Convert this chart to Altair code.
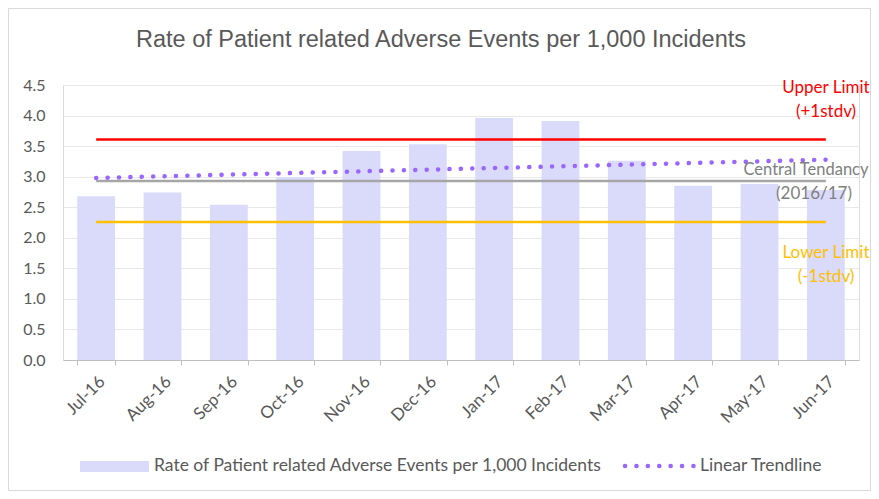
import json
import altair as alt
import pandas as pd

# ---- data ----
months = ["Jul-16", "Aug-16", "Sep-16", "Oct-16", "Nov-16", "Dec-16",
          "Jan-17", "Feb-17", "Mar-17", "Apr-17", "May-17", "Jun-17"]
rates = [2.68, 2.74, 2.54, 2.99, 3.42, 3.53, 3.96, 3.91, 3.26, 2.85, 2.88, 2.78]
upper_limit = 3.61
central_tendency = 2.93
lower_limit = 2.26
y_ticks = [0.0, 0.5, 1.0, 1.5, 2.0, 2.5, 3.0, 3.5, 4.0, 4.5]

title_text = "Rate of Patient related Adverse Events per 1,000 Incidents"
bar_legend = "Rate of Patient related Adverse Events per 1,000 Incidents"
trend_legend = "Linear Trendline"

BAR = "#DADAFB"
TREND = "#9966FF"
RED = "#FF0000"
GREY = "#A6A6A6"
GOLD = "#FFC000"
TXT = "#595959"
FONT = "Lato"

W, H = 796, 275

df = pd.DataFrame({"month": months, "rate": rates, "idx": list(range(len(months)))})

limits = pd.DataFrame(
    [{"month": m, "level": v, "kind": k}
     for k, v in [("upper", upper_limit), ("central", central_tendency), ("lower", lower_limit)]
     for m in months]
)

xscale = alt.Scale(paddingInner=0.43, paddingOuter=0.215)
xaxis = alt.Axis(labelAngle=-45, labelFont=FONT, labelFontSize=17,
                 labelColor=TXT, domainColor="#BFBFBF", tickColor="#BFBFBF",
                 tickBand="extent", tickSize=5, labelPadding=8, grid=False,
                 labelOverlap=False)
yscale = alt.Scale(domain=[0, 4.5], nice=False, zero=True)
yaxis = alt.Axis(values=y_ticks, format=".1f", labelFont=FONT, labelFontSize=16,
                 labelColor=TXT, domainColor="#D9D9D9", ticks=False,
                 gridColor="#E8E8E8", labelPadding=18, labelOverlap=False)


def xe(field="month"):
    return alt.X(f"{field}:N", sort=months, scale=xscale, title=None, axis=xaxis)


def ye(field):
    return alt.Y(f"{field}:Q", scale=yscale, title=None, axis=yaxis)


bars = alt.Chart(df).mark_bar(color=BAR).encode(x=xe(), y=ye("rate"))

lines = alt.Chart(limits).mark_line(strokeWidth=2.5).encode(
    x=xe(), y=ye("level"),
    color=alt.Color("kind:N", scale=alt.Scale(domain=["upper", "central", "lower"],
                                              range=[RED, GREY, GOLD]), legend=None),
)

month_arr = json.dumps(months)
trend = alt.Chart(df).transform_regression(
    "idx", "rate", method="linear", extent=[0, len(months) - 1]
).transform_calculate(
    month=f"{month_arr}[round(datum.idx)]"
).mark_line(color=TREND, strokeWidth=4.5, strokeDash=[0.1, 11.3], strokeCap="round").encode(
    x=xe(), y=ye("rate"),
)

one = pd.DataFrame({"a": [0]})

def txt(text, x, y, color, size=17, font=FONT, align="center"):
    return alt.Chart(one).mark_text(text=text, color=color, fontSize=size, font=font,
                                    align=align, baseline="middle").encode(
        x=alt.value(x), y=alt.value(y))

labels = [
    txt(title_text, 378, -45, TXT, size=23.5, font="Liberation Sans"),
    txt("Upper Limit", 763, 3, RED),
    txt("(+1stdv)", 763, 27, RED),
    txt("Central Tendancy", 743, 85, "#808080", size=16.5),
    txt("(2016/17)", 751, 109, "#808080"),
    txt("Lower Limit", 763, 168, GOLD),
    txt("(-1stdv)", 763, 192, GOLD),
    txt(bar_legend, 91, 381, TXT, size=17.5, align="left"),
    txt(trend_legend, 637, 381, TXT, size=17.5, align="left"),
]

swatch = alt.Chart(one).mark_rect(color=BAR).encode(
    x=alt.value(17), x2=alt.value(86), y=alt.value(376), y2=alt.value(387))

leg_dots = alt.Chart(pd.DataFrame({"p": [562, 633]})).mark_line(
    color=TREND, strokeWidth=4.5, strokeDash=[0.1, 11.3], strokeCap="round").encode(
    x=alt.X("p:Q", scale=None), y=alt.value(381))

border = alt.Chart(one).mark_rect(fill=None, stroke="#D9D9D9", strokeWidth=1).encode(
    x=alt.value(-54.5), x2=alt.value(807.5), y=alt.value(-76.5), y2=alt.value(405.5))

chart = alt.layer(bars, border, lines, trend, swatch, leg_dots, *labels).properties(
    width=W, height=H,
    autosize=alt.AutoSizeParams(type="none"),
    padding={"left": 55, "top": 77, "right": 12, "bottom": 131},
).configure_view(stroke=None).configure(background="white")

chart.save("out.html", embed_options={"renderer": "svg", "actions": False})
